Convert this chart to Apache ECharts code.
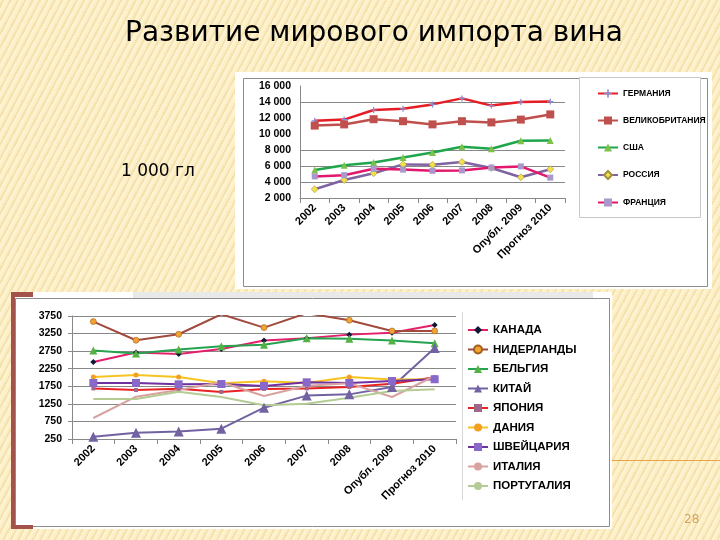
<!DOCTYPE html>
<html><head><meta charset="utf-8">
<script src="https://cdn.jsdelivr.net/npm/echarts@6/dist/echarts.min.js"></script>
<style>
html,body{margin:0;padding:0;width:720px;height:540px;overflow:hidden;}
body{background:#fcefc6;background-image:repeating-linear-gradient(118deg,#fcefc6 0 2px,#f5e2ac 2px 4px,#fdf3d2 4px 6.5px);}
#c{width:720px;height:540px;}
</style></head><body><div id="c"></div>
<script>
const years = ['2002','2003','2004','2005','2006','2007','2008','Опубл. 2009','Прогноз 2010'];
const topTicks = [2000, 16000, 2000];
const bottomTicks = [250, 3750, 500];

const germany = [11650, 11800, 13000, 13150, 13700, 14450, 13550, 14000, 14050];
const uk      = [11050, 11200, 11850, 11600, 11200, 11600, 11450, 11800, 12450];
const usa     = [5500, 6100, 6450, 7050, 7700, 8400, 8150, 9150, 9200];
const russia  = [3100, 4250, 5100, 6200, 6150, 6500, 5750, 4600, 5600];
const france  = [4700, 4850, 5650, 5550, 5400, 5450, 5800, 5950, 4550];

const canada      = [2440, 2710, 2670, 2810, 3050, 3115, 3220, 3275, 3495];
const netherlands = [3590, 3060, 3230, 3800, 3420, 3830, 3630, 3325, 3325];
const belgium     = [2765, 2680, 2800, 2890, 2935, 3115, 3100, 3050, 2975];
const china       = [316, 430, 460, 545, 1140, 1485, 1520, 1730, 2840];
const japan       = [1690, 1645, 1683, 1590, 1675, 1690, 1730, 1825, 2005];
const denmark     = [2015, 2070, 2015, 1835, 1890, 1845, 2015, 1940, 1950];
const switzerland = [1845, 1845, 1806, 1815, 1760, 1863, 1845, 1900, 1950];
const italy       = [848, 1455, 1645, 1863, 1474, 1768, 1835, 1445, 2043];
const portugal    = [1389, 1389, 1597, 1445, 1208, 1256, 1426, 1616, 1664];

const F = "'Liberation Sans', Arial, sans-serif";
const plus = 'path://M4,0H6V4H10V6H6V10H4V6H0V4H4Z';

function s(name, data, gi, color, lw, symbol, ssize, scolor, bcolor) {
  return {
    name, type: 'line', data, xAxisIndex: gi, yAxisIndex: gi,
    lineStyle: {color, width: lw}, itemStyle: {color: scolor || color, borderColor: bcolor || scolor || color, borderWidth: bcolor ? 0.6 : 0},
    color, symbol: symbol || 'none', symbolSize: ssize || 0, showSymbol: !!symbol, animation: false
  };
}

const chart = echarts.init(document.getElementById('c'), null, {renderer: 'canvas'});
const fmt = v => String(v).replace(/\B(?=(\d{3})+(?!\d))/g, ' ');

chart.setOption({
  backgroundColor: 'transparent',
  animation: false,
  graphic: [
    {type:'rect', z:-5, shape:{x:235,y:72,width:477,height:217}, style:{fill:'#ffffff'}},
    {type:'rect', z:-4, shape:{x:243.5,y:78.5,width:464,height:208}, style:{fill:'none',stroke:'#8c8c8c',lineWidth:1}},
    {type:'rect', z:-3, shape:{x:579.5,y:77.5,width:121,height:140}, style:{fill:'#ffffff',stroke:'#c8c8c8',lineWidth:1}},
    {type:'rect', z:-5, shape:{x:11,y:292,width:601,height:237}, style:{fill:'#ffffff'}},
    {type:'rect', z:-4, shape:{x:133,y:292,width:460,height:6}, style:{fill:'#e9e9e9'}},
    {type:'rect', z:-4, shape:{x:15.5,y:298.5,width:594,height:228}, style:{fill:'none',stroke:'#8c8c8c',lineWidth:1}},
    {type:'line', z:-3, shape:{x1:462.5,y1:312,x2:462.5,y2:500}, style:{stroke:'#d8d8d8',lineWidth:1}},
    {type:'rect', z:-3, shape:{x:11,y:292,width:4,height:237}, style:{fill:'#a4524c'}},
    {type:'rect', z:-3, shape:{x:11,y:292,width:22,height:5}, style:{fill:'#a4524c'}},
    {type:'rect', z:-3, shape:{x:11,y:525,width:22,height:4}, style:{fill:'#a4524c'}},
    {type:'line', z:-3, shape:{x1:612,y1:460.5,x2:720,y2:460.5}, style:{stroke:'#e8a448',lineWidth:1}},
    {type:'text', left:125, top:20, style:{text:'Развитие мирового импорта вина', font:"28px 'DejaVu Sans', sans-serif", fill:'#000'}},
    {type:'text', left:121, top:163, style:{text:'1 000 гл', font:"17px 'DejaVu Sans', sans-serif", fill:'#000'}},
    {type:'text', left:684, top:514, style:{text:'28', font:"12px 'DejaVu Sans', sans-serif", fill:'#d4a45c'}}
  ],
  legend: [
    {orient:'vertical', left:592, top:84, itemGap:18, itemWidth:20, itemHeight:10,
     data:['ГЕРМАНИЯ','ВЕЛИКОБРИТАНИЯ','США','РОССИЯ','ФРАНЦИЯ'],
     textStyle:{fontFamily:F, fontSize:8.5, fontWeight:'bold', color:'#000'}},
    {orient:'vertical', left:462, top:319, itemGap:7.5, itemWidth:20, itemHeight:10,
     data:['КАНАДА','НИДЕРЛАНДЫ','БЕЛЬГИЯ','КИТАЙ','ЯПОНИЯ','ДАНИЯ','ШВЕЙЦАРИЯ','ИТАЛИЯ','ПОРТУГАЛИЯ'],
     textStyle:{fontFamily:F, fontSize:11.5, fontWeight:'bold', color:'#000'}}
  ],
  grid: [
    {left:300, right:155, top:86, bottom:342},
    {left:72, right:264, top:316, bottom:101}
  ],
  xAxis: [
    {type:'category', gridIndex:0, data:years, boundaryGap:true,
     axisLine:{lineStyle:{color:'#888'}}, axisTick:{show:true, length:5, lineStyle:{color:'#888'}},
     axisLabel:{interval:0, rotate:45, margin:8, fontFamily:F, fontSize:11, fontWeight:'bold', color:'#000'}},
    {type:'category', gridIndex:1, data:years, boundaryGap:true,
     axisLine:{lineStyle:{color:'#888'}}, axisTick:{show:true, length:5, lineStyle:{color:'#888'}},
     axisLabel:{interval:0, rotate:45, margin:8, fontFamily:F, fontSize:11, fontWeight:'bold', color:'#000'}}
  ],
  yAxis: [
    {type:'value', gridIndex:0, min:topTicks[0], max:topTicks[1], interval:topTicks[2],
     axisLine:{show:true, lineStyle:{color:'#888'}}, axisTick:{show:false},
     splitLine:{lineStyle:{color:['#888','#888','#888','#888','rgba(0,0,0,0)','rgba(0,0,0,0)','#888','rgba(0,0,0,0)']}},
     axisLabel:{formatter:fmt, margin:9, fontFamily:F, fontSize:10.5, fontWeight:'bold', color:'#000'}},
    {type:'value', gridIndex:1, min:bottomTicks[0], max:bottomTicks[1], interval:bottomTicks[2],
     axisLine:{show:true, lineStyle:{color:'#888'}}, axisTick:{show:true, length:4, lineStyle:{color:'#888'}},
     splitLine:{lineStyle:{color:'#888'}},
     axisLabel:{formatter:v => String(v), margin:10, fontFamily:F, fontSize:10.5, fontWeight:'bold', color:'#000'}}
  ],
  series: [
    s('ГЕРМАНИЯ', germany, 0, '#e61d25', 2.5, plus, 6, '#8a8ad0'),
    s('ВЕЛИКОБРИТАНИЯ', uk, 0, '#c0504d', 2.5, 'rect', 8, '#c0504d'),
    s('США', usa, 0, '#1fa64c', 2.5, 'triangle', 7, '#7cc24a'),
    s('РОССИЯ', russia, 0, '#8064a2', 2.5, 'diamond', 7, '#f4e04c', '#a09040'),
    s('ФРАНЦИЯ', france, 0, '#e2186c', 2.5, 'rect', 6, '#a898cc'),

    s('КАНАДА', canada, 1, '#e2206c', 2, 'diamond', 6, '#101838'),
    s('НИДЕРЛАНДЫ', netherlands, 1, '#a24a3e', 2, 'circle', 6, '#f2a232', '#a06020'),
    s('БЕЛЬГИЯ', belgium, 1, '#26a34e', 2, 'triangle', 8, '#54b144'),
    s('КИТАЙ', china, 1, '#7262a2', 2, 'triangle', 10, '#7262a2'),
    s('ЯПОНИЯ', japan, 1, '#e82222', 2, 'rect', 4, '#a06888'),
    s('ДАНИЯ', denmark, 1, '#f6c322', 2, 'circle', 5, '#f2a020'),
    s('ШВЕЙЦАРИЯ', switzerland, 1, '#7030a0', 2, 'rect', 8, '#8868c8'),
    s('ИТАЛИЯ', italy, 1, '#d8a2a0', 2),
    s('ПОРТУГАЛИЯ', portugal, 1, '#b4cc94', 2)
  ]
});
</script></body></html>
